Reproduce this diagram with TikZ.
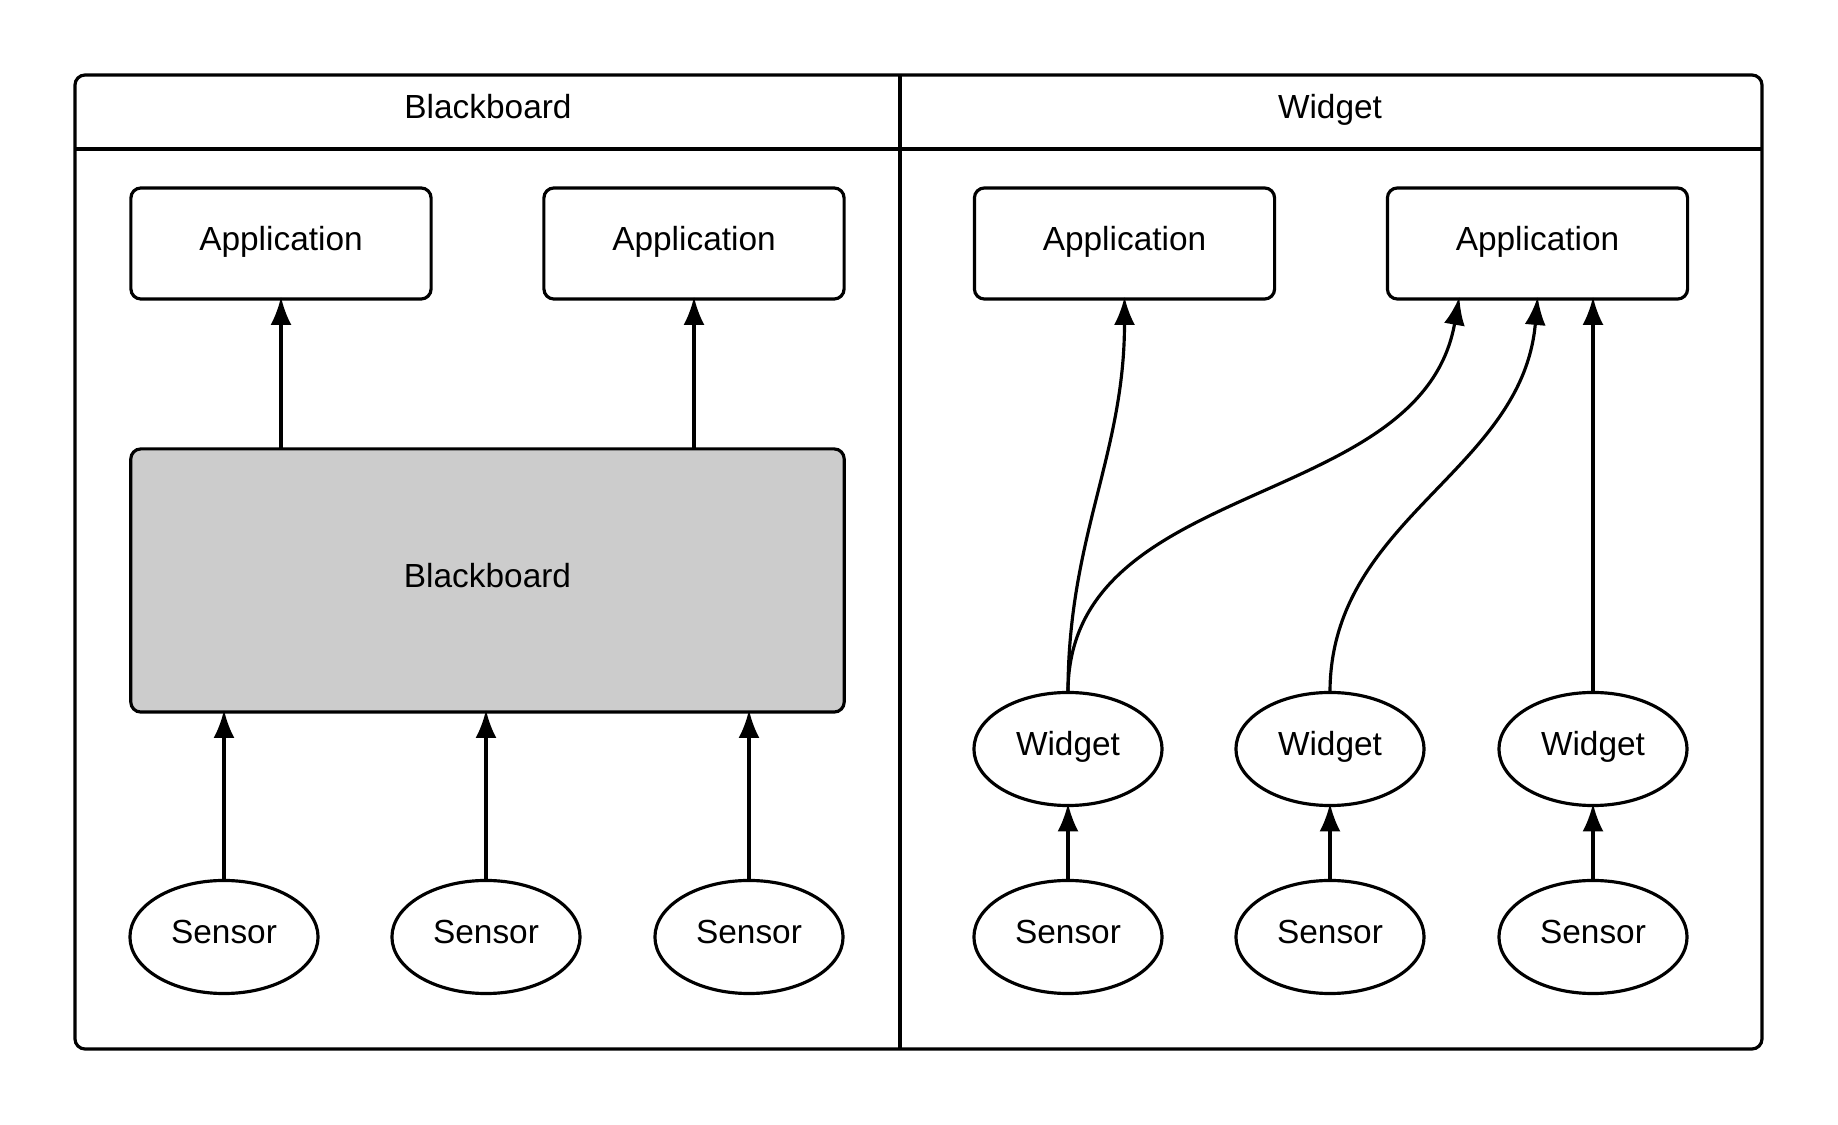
\documentclass[tikz,border=0pt]{standalone}
\usepackage{fontspec}
\setmainfont{Liberation Sans}
\usepackage{tikz}
\usetikzlibrary{shapes.geometric,arrows.meta}
\definecolor{boardgray}{RGB}{204,204,204}

\begin{document}
\begin{tikzpicture}[x=0.01cm, y=-0.01cm, line width=0.9pt,
  font=\fontsize{9.5pt}{11pt}\selectfont,
  every node/.style={outer sep=0pt, text height=0.72em, text depth=0.34em},
  appbox/.style={draw, rounded corners=0.1cm, minimum width=3cm, minimum height=1.11cm, inner sep=0pt},
  blob/.style={draw, ellipse, minimum width=1.88cm, minimum height=1.13cm, inner sep=0pt},
  arr/.style={-{Latex[length=2.8mm, width=2.1mm]}, shorten >=-0.6pt}]
\useasboundingbox (0,0) rectangle (1838,1125);

% frame with two columns
\draw[rounded corners=0.1cm] (75,75) rectangle (1762,1049);
\draw (75,149) -- (1762,149);
\draw (900,75) -- (900,1049);
\node (t1) at (488,112) {Blackboard};
\node (t2) at (1330,112) {Widget};

% blackboard side
\node[appbox] (a1) at (281,243.5) {Application};
\node[appbox] (a2) at (694,243.5) {Application};
\node[appbox, fill=boardgray, minimum width=7.13cm, minimum height=2.63cm] (bb) at (487.5,580.5) {Blackboard};

\node[blob] (s1) at (224,937) {Sensor};
\node[blob] (s2) at (486,937) {Sensor};
\node[blob] (s3) at (749,937) {Sensor};

\draw[arr] (s1.north) -- (s1.north |- bb.south);
\draw[arr] (s2.north) -- (s2.north |- bb.south);
\draw[arr] (s3.north) -- (s3.north |- bb.south);
\draw[arr] (bb.north -| a1.south) -- (a1.south);
\draw[arr] (bb.north -| a2.south) -- (a2.south);

% widget side
\node[appbox] (a3) at (1124.5,243.5) {Application};
\node[appbox] (a4) at (1537.5,243.5) {Application};

\node[blob] (w1) at (1068,749) {Widget};
\node[blob] (w2) at (1330,749) {Widget};
\node[blob] (w3) at (1593,749) {Widget};

\node[blob] (s4) at (1068,937) {Sensor};
\node[blob] (s5) at (1330,937) {Sensor};
\node[blob] (s6) at (1593,937) {Sensor};

\draw[arr] (s4) -- (w1);
\draw[arr] (s5) -- (w2);
\draw[arr] (s6) -- (w3);

\draw[arr] (w1.north) to[out=90, in=-90] (a3.south);
\draw[arr] (w1.north) to[out=90, in=-100] ([xshift=-0.785cm]a4.south);
\draw[arr] (w2.north) to[out=90, in=-95] (a4.south);
\draw[arr] (w3.north) -- (w3.north |- a4.south);
\end{tikzpicture}
\end{document}
